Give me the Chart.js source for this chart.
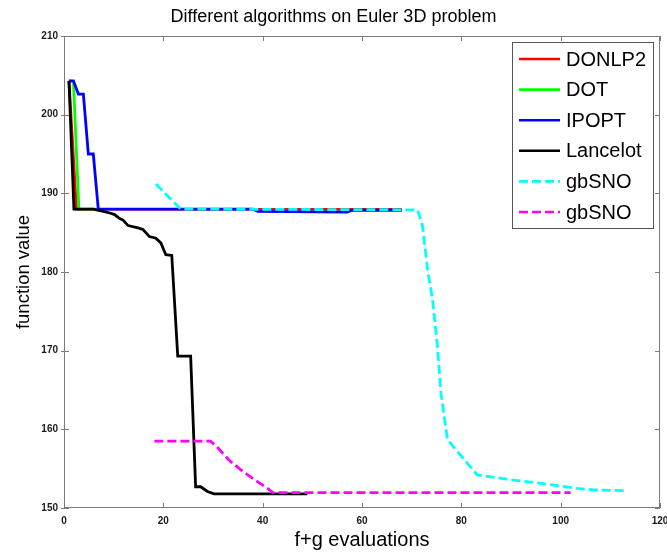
<!DOCTYPE html>
<html>
<head>
<meta charset="utf-8">
<script src="https://cdn.jsdelivr.net/npm/chart.js@4.4.1/dist/chart.umd.min.js"></script>
<style>
  body { margin: 0; background: #fff; }
  #wrap { width: 667px; height: 553px; }
</style>
</head>
<body>
<div id="wrap"><canvas id="chartjs" width="667" height="553"></canvas></div>
<script>
// values (f+g evaluations, function value)
const seriesNames = ['DONLP2', 'DOT', 'IPOPT', 'Lancelot', 'gbSNO', 'gbSNO'];

const donlp2X = [1, 2.5, 68];
const donlp2Y = [204.3, 188.0, 187.95];

const dotX = [1, 1.9, 3, 7];
const dotY = [204.3, 204.2, 188.0, 188.0];

const ipoptX = [1, 1.9, 2.9, 3.9, 4.9, 5.9, 6.9, 38, 39, 57, 58, 68];
const ipoptY = [204.3, 204.3, 202.6, 202.6, 195.0, 195.0, 188.0, 188.0, 187.7, 187.6, 187.85, 187.85];

const lancelotX = [1, 2, 5.9, 7.9, 9.2, 10.2, 11.2, 11.9, 12.9, 14.9, 15.9, 17.2, 18.5, 19.5, 20.5, 21.7, 22.9, 25.5, 26.5, 27.5, 28.9, 30.2, 49];
const lancelotY = [204.3, 188.0, 188.0, 187.7, 187.5, 187.3, 186.8, 186.6, 185.9, 185.6, 185.4, 184.5, 184.3, 183.7, 182.2, 182.1, 169.3, 169.3, 152.7, 152.7, 152.1, 151.8, 151.8];

const gbsnoCyanX = [18.5, 23.5, 71.2, 72.2, 73.2, 74.2, 75.2, 75.9, 77.2, 83.2, 89.9, 96.5, 103.2, 106.5, 113.5];
const gbsnoCyanY = [191.2, 188.0, 187.9, 185.8, 180.3, 176.5, 170.5, 164.6, 158.7, 154.2, 153.6, 153.1, 152.5, 152.3, 152.2];

const gbsnoMagX = [18.2, 29.5, 30.9, 33.2, 35.5, 37.9, 41.2, 42, 102];
const gbsnoMagY = [158.5, 158.5, 157.7, 156.1, 154.9, 153.8, 152.4, 151.95, 151.95];

const xTicks = [0, 20, 40, 60, 80, 100, 120];
const yTicks = [150, 160, 170, 180, 190, 200, 210];

function pts(xs, ys) {
  return xs.map((x, i) => ({ x: x, y: ys[i] }));
}

const lineStyles = [
  { color: '#ff0000', dash: [] },
  { color: '#00ff00', dash: [] },
  { color: '#0000ff', dash: [] },
  { color: '#000000', dash: [] },
  { color: '#00ffff', dash: [9, 4] },
  { color: '#ff00ff', dash: [9, 4] }
];

const allData = [
  pts(donlp2X, donlp2Y),
  pts(dotX, dotY),
  pts(ipoptX, ipoptY),
  pts(lancelotX, lancelotY),
  pts(gbsnoCyanX, gbsnoCyanY),
  pts(gbsnoMagX, gbsnoMagY)
];

const datasets = allData.map((d, i) => ({
  label: seriesNames[i],
  data: d,
  borderColor: lineStyles[i].color,
  backgroundColor: lineStyles[i].color,
  borderDash: lineStyles[i].dash,
  borderWidth: 2.8,
  pointRadius: 0,
  tension: 0,
  fill: false,
  order: allData.length - i   // last series on top, like matlab
}));

// box, ticks, legend, title
const matlabLook = {
  id: 'matlabLook',
  afterDatasetsDraw(chart) {
    const ctx = chart.ctx;
    const a = chart.chartArea;
    const xs = chart.scales.x, ys = chart.scales.y;
    ctx.save();
    ctx.strokeStyle = '#7a7a7a';
    ctx.lineWidth = 1;
    ctx.strokeRect(a.left + 0.5, a.top + 0.5, a.right - a.left - 1, a.bottom - a.top - 1);
    const tl = 5;
    ctx.beginPath();
    xTicks.forEach(v => {
      const px = Math.round(xs.getPixelForValue(v)) + 0.5;
      ctx.moveTo(px, a.bottom); ctx.lineTo(px, a.bottom - tl);
      ctx.moveTo(px, a.top); ctx.lineTo(px, a.top + tl);
    });
    yTicks.forEach(v => {
      const py = Math.round(ys.getPixelForValue(v)) + 0.5;
      ctx.moveTo(a.left - 3, py); ctx.lineTo(a.left + tl, py);
      ctx.moveTo(a.right, py); ctx.lineTo(a.right - tl, py);
    });
    ctx.stroke();

    // legend
    const bw = 141, bh = 186;
    const bx = a.right - 7 - bw, by = a.top + 6;
    ctx.fillStyle = '#ffffff';
    ctx.fillRect(bx, by, bw, bh);
    ctx.strokeStyle = '#555555';
    ctx.strokeRect(bx + 0.5, by + 0.5, bw, bh);
    ctx.font = '20px "Liberation Sans", Arial, sans-serif';
    ctx.textBaseline = 'middle';
    chart.data.datasets.forEach((ds, i) => {
      const cy = by + 17 + i * 30.6;
      ctx.strokeStyle = ds.borderColor;
      ctx.lineWidth = 2.6;
      ctx.setLineDash(ds.borderDash);
      ctx.beginPath();
      ctx.moveTo(bx + 7, cy);
      ctx.lineTo(bx + 48, cy);
      ctx.stroke();
      ctx.setLineDash([]);
      ctx.fillStyle = '#000000';
      ctx.fillText(ds.label, bx + 54, cy + 1);
    });
    ctx.restore();
  },
  afterDraw(chart) {
    const ctx = chart.ctx;
    ctx.save();
    ctx.fillStyle = '#000000';
    ctx.font = '18px "Liberation Sans", Arial, sans-serif';
    ctx.textAlign = 'center';
    ctx.textBaseline = 'middle';
    ctx.fillText('Different algorithms on Euler 3D problem', chart.width / 2, 17);
    ctx.restore();
  }
};

const tickFont = { family: '"Liberation Sans", Arial, sans-serif', size: 10, weight: 'bold' };

new Chart(document.getElementById('chartjs').getContext('2d'), {
  type: 'line',
  data: { datasets: datasets },
  options: {
    responsive: false,
    animation: false,
    events: [],
    layout: { padding: { left: 0, top: 36, right: 7, bottom: 0 } },
    plugins: {
      legend: { display: false },
      tooltip: { enabled: false },
      title: { display: false }
    },
    scales: {
      x: {
        type: 'linear',
        min: 0,
        max: 120,
        afterBuildTicks: s => { s.ticks = xTicks.map(v => ({ value: v })); },
        afterFit: s => { s.height = 45; s.paddingLeft = 0; s.paddingRight = 0; },
        grid: { display: false, drawTicks: false },
        border: { display: false },
        ticks: { color: '#1a1a1a', font: tickFont, padding: 7, maxRotation: 0 },
        title: {
          display: true,
          text: 'f+g evaluations',
          color: '#000',
          font: { family: '"Liberation Sans", Arial, sans-serif', size: 20 },
          padding: { top: 0, bottom: 1 }
        }
      },
      y: {
        type: 'linear',
        min: 150,
        max: 210,
        afterBuildTicks: s => { s.ticks = yTicks.map(v => ({ value: v })); },
        afterFit: s => { s.width = 64; s.paddingTop = 0; s.paddingBottom = 0; },
        grid: { display: false, drawTicks: false },
        border: { display: false },
        ticks: { color: '#1a1a1a', font: tickFont, padding: 6 },
        title: {
          display: true,
          text: 'function value',
          color: '#000',
          font: { family: '"Liberation Sans", Arial, sans-serif', size: 18.5 },
          padding: { top: 13, bottom: 0 }
        }
      }
    }
  },
  plugins: [matlabLook]
});
</script>
</body>
</html>
